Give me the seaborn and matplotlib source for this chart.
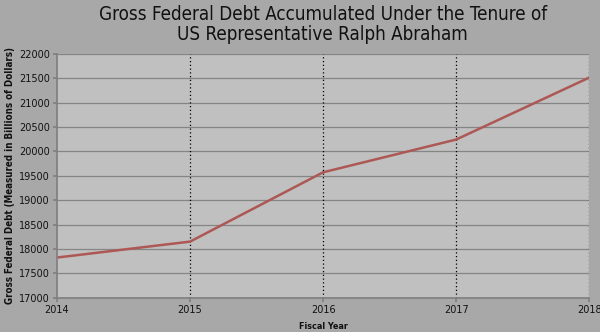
import matplotlib
matplotlib.use("Agg")
import matplotlib.pyplot as plt
import seaborn as sns
import pandas as pd

years = [2014, 2015, 2016, 2017, 2018]
debt = [17824, 18151, 19573, 20245, 21516]
yticks = list(range(17000, 22001, 500))

sns.set_theme(style="white")
plt.rcParams['font.family'] = ['DejaVu Sans']

df = pd.DataFrame({"Fiscal Year": years, "Debt": debt})

fig = plt.figure(figsize=(6, 3.32), dpi=100, facecolor="#a8a8a8")
ax = fig.add_axes([0.095, 0.1033, 0.887, 0.734])
ax.set_facecolor("#c0c0c0")

sns.lineplot(data=df, x="Fiscal Year", y="Debt", ax=ax, color="#ad5855", linewidth=1.8)

ax.set_xlim(2014, 2018)
ax.set_ylim(17000, 22000)
ax.set_xticks(years)
ax.set_yticks(yticks)
ax.set_xticklabels([str(y) for y in years], fontsize=7, color="#111111")
ax.set_yticklabels([str(y) for y in yticks], fontsize=7, color="#111111")
ax.tick_params(axis="both", length=3, color="#808080", pad=2, direction="out")
ax.tick_params(axis="x", bottom=True)
ax.tick_params(axis="y", left=True)

for y in yticks[1:]:
    ax.axhline(y, color="#858585", linewidth=0.9, zorder=0)
for x in years[1:]:
    ax.axvline(x, color="#000000", linewidth=0.9, linestyle=(0, (1, 2)), zorder=1)

for s in ["top", "right"]:
    ax.spines[s].set_visible(False)
ax.spines["left"].set_color("#808080")
ax.spines["bottom"].set_color("#808080")

ax.set_xlabel("Fiscal Year", fontsize=6.5, fontweight="bold", color="#111111", labelpad=5,
              fontstretch="condensed")
ax.set_ylabel("Gross Federal Debt (Measured in Billions of Dollars)", fontsize=7,
              fontweight="bold", color="#111111", labelpad=3, fontstretch="condensed")
fig.suptitle("Gross Federal Debt Accumulated Under the Tenure of\nUS Representative Ralph Abraham",
             x=0.538, y=0.985, fontsize=13.5, color="#111111", linespacing=1.05,
             fontstretch="condensed")

fig.savefig("out.png", dpi=100, facecolor=fig.get_facecolor())
